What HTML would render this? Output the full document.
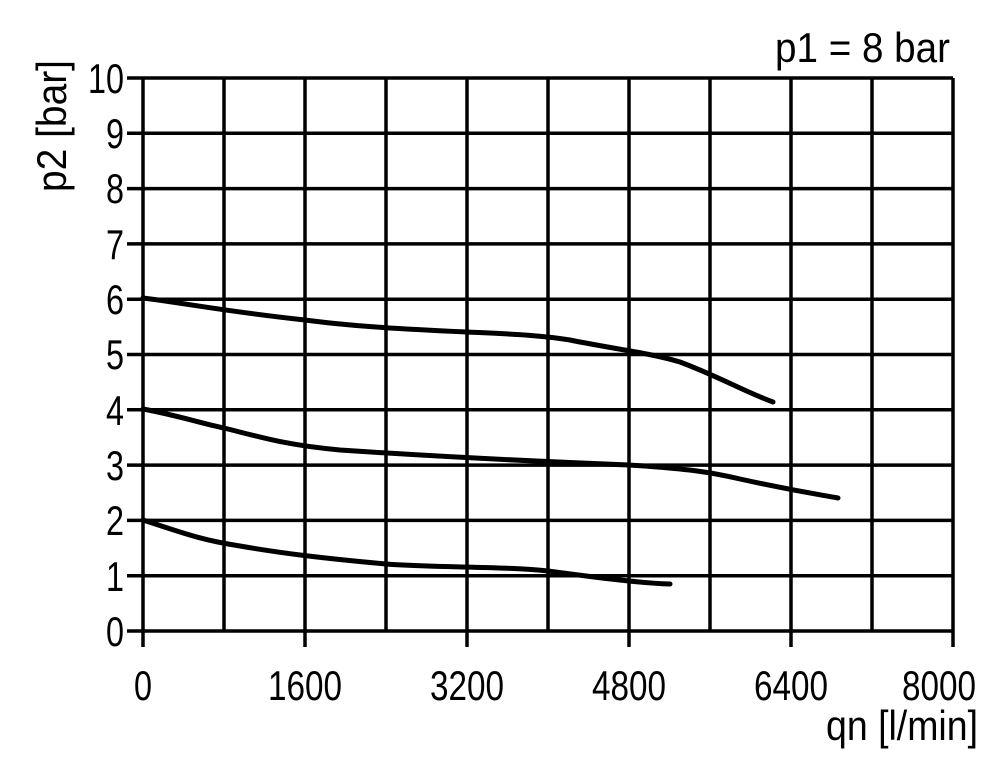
<!DOCTYPE html>
<html><head><style>body{margin:0;background:#fff}svg{display:block}</style></head><body>
<svg width="1000" height="764" xmlns="http://www.w3.org/2000/svg" font-family="'Liberation Sans',sans-serif" font-size="42">
<g stroke="#000" stroke-width="3.5" fill="none">
<path d="M127 78H953M127 133.3H953M127 188.6H953M127 243.9H953M127 299.2H953M127 354.5H953M127 409.8H953M127 465.1H953M127 520.4H953M127 575.7H953M127 631H953"/>
<path d="M143 78V647M224 78V631M305 78V647M386 78V631M467 78V647M548 78V631M629 78V647M710 78V631M791 78V647M872 78V631M953 78V647"/>
</g>
<g stroke="#000" stroke-width="5" fill="none" stroke-linecap="round" stroke-linejoin="round">
<path d="M143 298 C190 304,230 312,305 320 C350 326,400 329,467 332 C510 334,540 335,570 340 C620 350,650 353,680 362 C720 377,745 392,773 402"/>
<path d="M143 409 C180 416,200 423,224 428 C260 437,285 445,340 450 C400 454,500 460,629 465 C690 469,710 472,740 479 C790 490,810 493,838 498"/>
<path d="M143 520 C180 532,200 540,240 546 C280 553,320 558,386 564 C440 568,500 566,548 571 C600 578,640 583,670 584"/>
</g>
<g>
<text x="88" y="93" textLength="36" lengthAdjust="spacingAndGlyphs">10</text>
<text x="106" y="148" textLength="18" lengthAdjust="spacingAndGlyphs">9</text>
<text x="106" y="203" textLength="18" lengthAdjust="spacingAndGlyphs">8</text>
<text x="106" y="259" textLength="18" lengthAdjust="spacingAndGlyphs">7</text>
<text x="106" y="314" textLength="18" lengthAdjust="spacingAndGlyphs">6</text>
<text x="106" y="369" textLength="18" lengthAdjust="spacingAndGlyphs">5</text>
<text x="106" y="425" textLength="18" lengthAdjust="spacingAndGlyphs">4</text>
<text x="106" y="480" textLength="18" lengthAdjust="spacingAndGlyphs">3</text>
<text x="106" y="535" textLength="18" lengthAdjust="spacingAndGlyphs">2</text>
<text x="106" y="591" textLength="18" lengthAdjust="spacingAndGlyphs">1</text>
<text x="106" y="646" textLength="18" lengthAdjust="spacingAndGlyphs">0</text>
</g>
<g>
<text x="134" y="700" textLength="18" lengthAdjust="spacingAndGlyphs">0</text>
<text x="268" y="700" textLength="74" lengthAdjust="spacingAndGlyphs">1600</text>
<text x="430" y="700" textLength="74" lengthAdjust="spacingAndGlyphs">3200</text>
<text x="592" y="700" textLength="74" lengthAdjust="spacingAndGlyphs">4800</text>
<text x="754" y="700" textLength="74" lengthAdjust="spacingAndGlyphs">6400</text>
<text x="902" y="700" textLength="74" lengthAdjust="spacingAndGlyphs">8000</text>
</g>
<text x="775" y="62" textLength="175" lengthAdjust="spacingAndGlyphs">p1 = 8 bar</text>
<text x="826" y="740" textLength="152" lengthAdjust="spacingAndGlyphs">qn [l/min]</text>
<text transform="translate(66,192) rotate(-90)" textLength="132" lengthAdjust="spacingAndGlyphs">p2 [bar]</text>
</svg>
</body></html>
